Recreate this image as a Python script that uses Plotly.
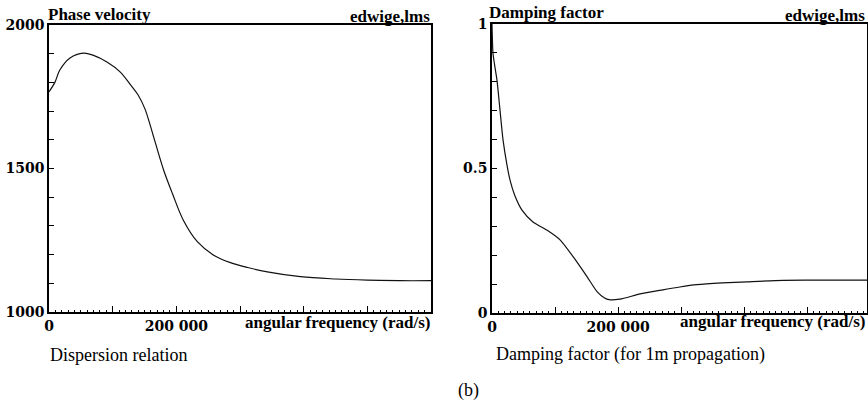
import plotly.graph_objects as go

# ---- data ----
omega_v = [0, 9400, 17000, 33000, 54000, 69000, 91000, 112000, 127500, 140000,
           151000, 158000, 167000, 180000, 194000, 211000, 233000, 258000, 285000,
           312000, 343000, 395000, 450000, 500000, 550000, 600000]
phase_velocity = [1767, 1801, 1843, 1885, 1902, 1895, 1871, 1836, 1793, 1756,
                  1706, 1658, 1590, 1495, 1412, 1320, 1245, 1199, 1172,
                  1155, 1140, 1123, 1115, 1111, 1109, 1109]

omega_d = [0, 1500, 4000, 7900, 12700, 17500, 23800, 28600, 36500, 47600, 65000,
           87000, 108000, 129000, 151000, 167000, 178000, 186000, 203000, 235000,
           271000, 298000, 325000, 365000, 405000, 462000, 530000, 597000]
damping = [1.0, 0.90, 0.86, 0.806, 0.702, 0.599, 0.512, 0.46, 0.405, 0.356, 0.315,
           0.287, 0.253, 0.194, 0.125, 0.073, 0.053, 0.046, 0.048, 0.066,
           0.08, 0.09, 0.098, 0.104, 0.108, 0.113, 0.114, 0.114]

x_tickvals = [0, 100000, 200000, 300000, 400000, 500000, 600000]
x_ticktext = ["0", "", "200 000", "", "", "", ""]
v_tickvals = [1000, 1100, 1200, 1300, 1400, 1500, 1600, 1700, 1800, 1900, 2000]
v_ticktext = ["1000", "", "", "", "", "1500", "", "", "", "", "2000"]
d_tickvals = [0, 0.1, 0.2, 0.3, 0.4, 0.5, 0.6, 0.7, 0.8, 0.9, 1.0]
d_ticktext = ["0", "", "", "", "", "0.5", "", "", "", "", "1"]

W, H = 868, 404
TICKFONT = dict(family="DejaVu Serif", size=14, color="black", weight="bold")
BOLD = dict(family="Liberation Serif", size=17, color="black", weight="bold")
NORMAL = dict(family="Liberation Serif", size=18, color="black")

fig = go.Figure()
fig.add_trace(go.Scatter(x=omega_v, y=phase_velocity, mode="lines",
                         line=dict(color="#111", width=1.2, shape="spline", smoothing=1.0),
                         xaxis="x", yaxis="y", showlegend=False, hoverinfo="skip"))
fig.add_trace(go.Scatter(x=omega_d, y=damping, mode="lines",
                         line=dict(color="#111", width=1.2, shape="spline", smoothing=0.6),
                         xaxis="x2", yaxis="y2", showlegend=False, hoverinfo="skip"))

def xax(domain, rng, anchor):
    return dict(domain=domain, range=rng, anchor=anchor, showline=True, linecolor="black",
                linewidth=1.5, mirror=True, ticks="inside", ticklen=6, tickwidth=1,
                tickcolor="black", tickmode="array", tickvals=x_tickvals, ticktext=x_ticktext,
                tickfont=TICKFONT, showgrid=False, zeroline=False, automargin=False,
                minor=dict(dtick=10000, tick0=0, ticks="inside", ticklen=2,
                           tickcolor="black", tickwidth=1, showgrid=False))

def yax(domain, rng, anchor, tv, tt):
    return dict(domain=domain, range=rng, anchor=anchor, showline=True, linecolor="black",
                linewidth=1.5, mirror=True, ticks="inside", ticklen=5, tickwidth=1,
                tickcolor="black", tickmode="array", tickvals=tv, ticktext=tt,
                tickfont=TICKFONT, showgrid=False, zeroline=False, automargin=False)

fig.update_layout(
    width=W, height=H, margin=dict(l=0, r=0, t=0, b=0, autoexpand=False),
    paper_bgcolor="white", plot_bgcolor="white",
    xaxis=xax([49 / W, 431 / W], [0, 600000], "y"),
    yaxis=yax([92 / H, 379 / H], [1000, 2000], "x", v_tickvals, v_ticktext),
    xaxis2=xax([492 / W, 867 / W], [0, 595000], "y2"),
    yaxis2=yax([91 / H, 380 / H], [0, 1], "x2", d_tickvals, d_ticktext),
)

def ann(text, xpx, ypx, xanchor, font):
    fig.add_annotation(text=text, x=xpx / W, y=1 - ypx / H, xref="paper", yref="paper",
                       xanchor=xanchor, yanchor="middle", showarrow=False, font=font)

ann("Phase velocity", 46, 14, "left", BOLD)
ann("edwige,lms", 432, 16, "right", BOLD)
ann("angular frequency (rad/s)", 432, 322, "right", BOLD)
ann("Dispersion relation", 48, 355, "left", NORMAL)
ann("Damping factor", 487, 12, "left", BOLD)
ann("edwige,lms", 867, 15, "right", BOLD)
ann("angular frequency (rad/s)", 867, 321, "right", BOLD)
ann("Damping factor (for 1m propagation)", 494, 354, "left", NORMAL)
ann("(b)", 469, 390, "center", NORMAL)

fig.write_html("out.html", config={"displayModeBar": False},
               post_script="document.body.style.margin='0';")
